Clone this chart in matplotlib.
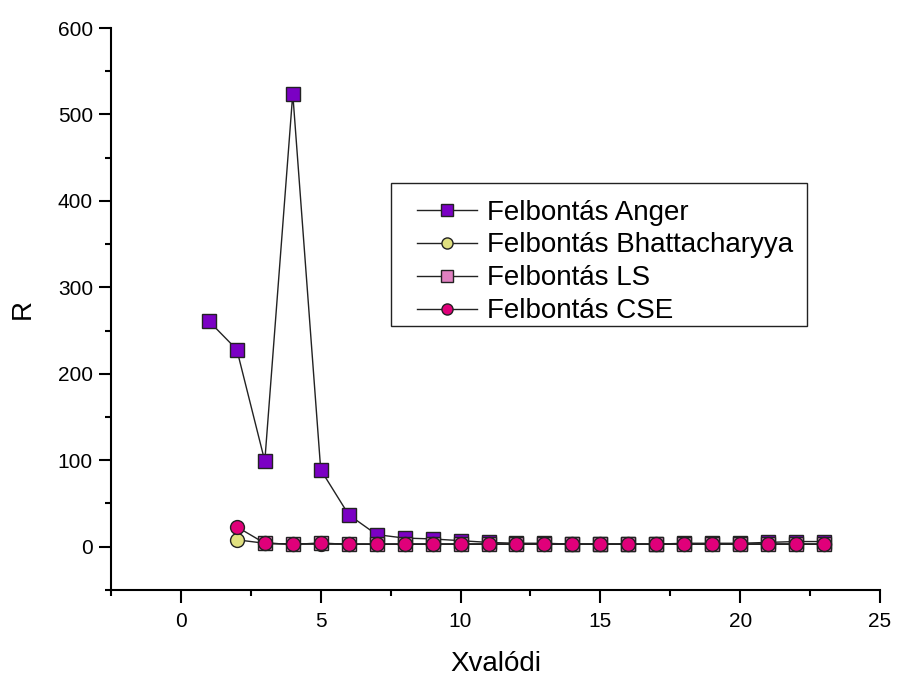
import matplotlib.pyplot as plt
from matplotlib.patches import Rectangle
from matplotlib.ticker import MultipleLocator

plt.rcParams['font.family'] = ['Liberation Sans', 'DejaVu Sans']

# resolution values per position
x_anger = list(range(1, 24))
r_anger = [261, 228, 99, 524, 89, 37, 14, 10, 9, 7, 5, 4, 4, 3, 3, 3, 3, 4, 4, 4, 5, 6, 6]

x_bhat = list(range(2, 24))
r_bhat = [8, 4, 3, 3, 3, 3, 3, 3, 3, 3, 3, 3, 3, 3, 3, 3, 3, 3, 3, 3, 3, 3]

x_ls = list(range(3, 24))
r_ls = [4, 3, 4, 3, 3, 3, 3, 3, 3, 3, 3, 3, 3, 3, 3, 3, 3, 3, 3, 3, 3]

x_cse = list(range(2, 24))
r_cse = [23, 4, 3, 4, 3, 3, 3, 3, 3, 3, 3, 3, 3, 3, 3, 3, 3, 3, 3, 3, 3, 3]

fig = plt.figure(figsize=(8.98, 6.75), dpi=100)
ax = fig.add_axes([0.1236, 0.126, 0.8564, 0.8325])

ms = 10
ax.plot(x_anger, r_anger, '-s', color='#222222', lw=1, mfc='#7B00C4', mec='#222222',
        ms=ms, label='Felbontás Anger')
ax.plot(x_bhat, r_bhat, '-o', color='#222222', lw=1, mfc='#E0E080', mec='#222222',
        ms=ms, label='Felbontás Bhattacharyya')
ax.plot(x_ls, r_ls, '-s', color='#222222', lw=1, mfc='#E080C0', mec='#222222',
        ms=ms, label='Felbontás LS')
ax.plot(x_cse, r_cse, '-o', color='#222222', lw=1, mfc='#E0007A', mec='#222222',
        ms=ms, label='Felbontás CSE')

ax.set_xlim(-2.5, 25)
ax.set_ylim(-50, 600)
ax.xaxis.set_major_locator(MultipleLocator(5))
ax.xaxis.set_minor_locator(MultipleLocator(2.5))
ax.yaxis.set_major_locator(MultipleLocator(100))
ax.yaxis.set_minor_locator(MultipleLocator(50))

for side in ['top', 'right']:
    ax.spines[side].set_visible(False)
for side in ['left', 'bottom']:
    ax.spines[side].set_linewidth(1.5)

ax.tick_params(which='major', direction='out', length=9, width=1.5, labelsize=15)
ax.tick_params(axis='x', which='major', pad=7)
ax.tick_params(axis='y', which='major', pad=4)
ax.tick_params(which='minor', direction='out', length=4.5, width=1.5)

ax.set_xlabel('Xvalódi', fontsize=20, labelpad=14)
ax.set_ylabel('R', fontsize=20, labelpad=16)

# legend entries without their own frame; box drawn separately (wider side padding)
leg = ax.legend(loc='upper left', bbox_to_anchor=(0.4644, 0.7044),
                bbox_transform=fig.transFigure, borderaxespad=0, borderpad=0,
                fontsize=20, frameon=False, markerscale=0.8,
                handlelength=2.15, handletextpad=0.36, labelspacing=0.25)
fig.patches.append(Rectangle((0.4354, 0.517), 0.4633, 0.2119, transform=fig.transFigure,
                             fill=False, edgecolor='#222222', linewidth=1))

fig.savefig('out.png', dpi=100)
